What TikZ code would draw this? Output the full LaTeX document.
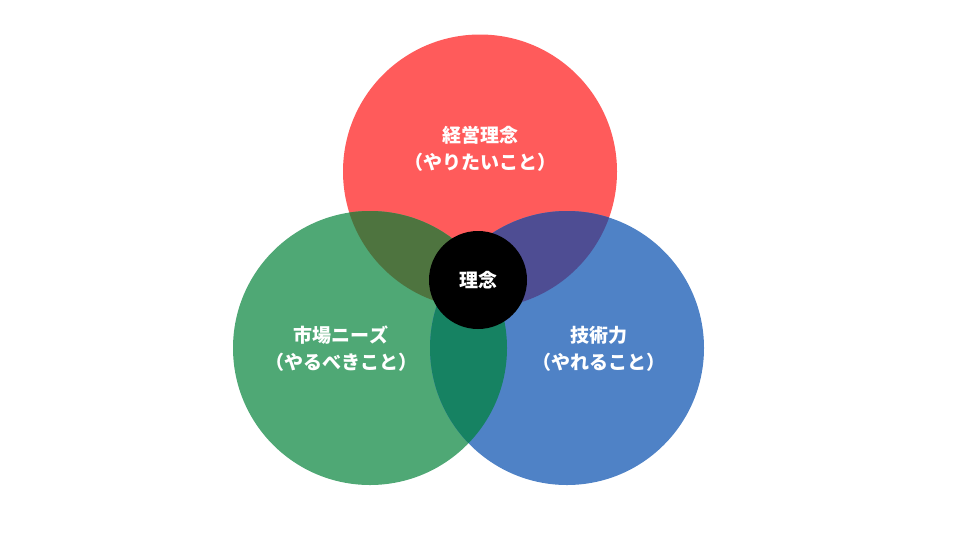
\documentclass[tikz,border=0pt]{standalone}
\usepackage{fontspec}
\newfontfamily\jpfont{Noto Sans CJK JP}
\usetikzlibrary{positioning}
\definecolor{redc}{HTML}{FF5B5B}
\definecolor{greenc}{HTML}{4FA875}
\definecolor{bluec}{HTML}{4F82C6}
\definecolor{redgreen}{HTML}{4E743F}
\definecolor{redblue}{HTML}{4E4D93}
\definecolor{greenblue}{HTML}{168262}
\tikzset{
    set label/.style={text=white, align=center, font=\jpfont\bfseries\fontsize{14.25}{20.25}\selectfont}, % White labels
    big r/.style={radius=102.75pt}, % Radius of the three sets
}

\begin{document}
\begin{tikzpicture}[x=0.75pt, y=-0.75pt]
    \useasboundingbox (0,0) rectangle (960,540);

    % --- Centres ---
    \coordinate (keiei) at (480,171.5);
    \coordinate (shijo) at (370,348);
    \coordinate (gijutsu) at (567,348);

    % --- Sets ---
    \fill[redc]   (keiei)   circle[big r];
    \fill[greenc] (shijo)   circle[big r];
    \fill[bluec]  (gijutsu) circle[big r];

    % --- Overlaps ---
    \begin{scope}
        \clip (keiei) circle[big r];
        \fill[redgreen] (shijo) circle[big r];
        \fill[redblue] (gijutsu) circle[big r];
    \end{scope}
    \begin{scope}
        \clip (shijo) circle[big r];
        \fill[greenblue] (gijutsu) circle[big r];
    \end{scope}

    % --- Labels ---
    \node[set label] (keieiL) at (480,148.5) {経営理念\\（やりたいこと）};
    \node[set label] (shijoL) at (341,348.5) {市場ニーズ\\（やるべきこと）};
    \node[set label] (gijutsuL) at (599,348.5) {技術力\\（やれること）};

    % --- Centre ---
    \node[circle, fill=black, minimum size=73.5pt, inner sep=0pt, set label] (rinen) at (478,280) {理念};

\end{tikzpicture}
\end{document}
